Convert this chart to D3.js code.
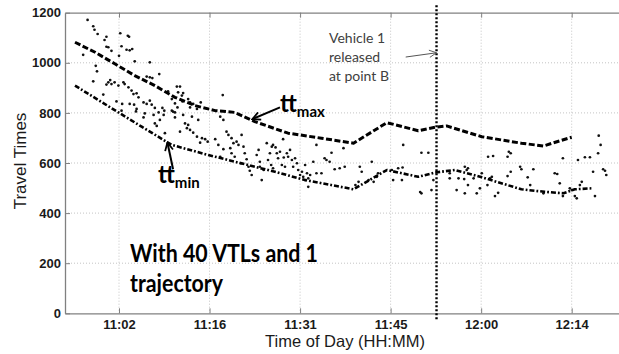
<!DOCTYPE html>
<html>
<head>
<meta charset="utf-8">
<script src="https://cdn.jsdelivr.net/npm/d3@7"></script>
<style>
  html, body { margin: 0; padding: 0; background: #fff; }
  svg { display: block; }
</style>
</head>
<body>
<div id="chart"></div>
<script>
// Times are minutes after midnight, travel times in seconds
const xTickMinutes = [662.4, 676.8, 691.2, 705.6, 720, 734.4];
const xTickLabels = ['11:02', '11:16', '11:31', '11:45', '12:00', '12:14'];
const yTicks = [0, 200, 400, 600, 800, 1000, 1200];

const ttMaxTime = [655.4, 658.6, 661.8, 664.9, 668.1, 671.3, 674.5, 677.7, 680.8, 684.0, 689.3,
  694.6, 699.7, 705.0, 710.0, 712.7, 714.5, 720.1, 726.4, 729.9, 734.4];
const ttMaxValue = [1082, 1042, 995, 949, 909, 862, 829, 809, 802, 765, 719,
  699, 679, 761, 729, 743, 748, 705, 679, 668, 703];

const ttMinTime = [655.4, 662.3, 666.0, 670.8, 676.6, 684.0, 687.2, 692.0, 699.7, 705.0, 710.0,
  712.7, 715.8, 720.1, 726.4, 730.1, 733.1, 734.9, 737.6];
const ttMinValue = [909, 802, 745, 672, 632, 585, 565, 532, 495, 572, 545,
  562, 572, 543, 495, 485, 479, 495, 499];

const obsTime = [
  657.4, 658.3, 658.5, 659.0, 660.4, 660.1, 660.4, 660.7, 661.2, 656.7, 662.6, 663.8, 664.0, 662.8,
  663.6, 664.1, 664.5, 662.4, 664.9, 667.3, 658.7, 658.9, 658.3, 660.7, 661.0, 661.2, 660.4, 661.7,
  662.3, 663.1, 663.3, 663.9, 664.4, 664.7, 665.2, 665.5, 666.8, 667.3, 667.7, 668.8, 659.9, 662.0,
  662.9, 664.1, 664.8, 665.2, 666.3, 666.8, 667.3, 667.6, 668.1, 669.3, 669.6, 668.7, 670.2, 671.6,
  672.1, 671.8, 672.4, 672.6, 670.8, 671.3, 671.7, 672.5, 673.4, 673.7, 674.2, 675.4, 673.7, 674.8,
  670.8, 671.3, 678.9, 662.8, 665.1, 666.3, 666.5, 667.9, 668.1, 668.4, 668.9, 669.5, 669.7, 671.0,
  671.3, 672.1, 672.6, 672.9, 673.2, 673.4, 673.7, 674.0, 674.2, 674.8, 675.3, 675.0, 675.6, 676.1,
  676.5, 677.7, 678.2, 679.0, 679.5, 679.8, 680.3, 680.6, 681.1, 681.4, 680.1, 680.3, 680.8, 681.9,
  682.2, 682.4, 682.7, 683.0, 683.2, 683.5, 681.8, 678.5, 678.5, 679.0, 684.6, 684.3, 684.8, 685.1,
  685.9, 686.1, 686.4, 686.7, 686.9, 687.3, 686.6, 686.9, 687.5, 687.7, 688.0, 688.3, 688.5, 688.6,
  688.8, 689.1, 689.3, 689.6, 689.9, 690.1, 690.4, 690.7, 690.9, 691.2, 691.5, 691.7, 692.0, 692.3,
  692.5, 692.8, 692.5, 692.0, 693.3, 693.8, 693.8, 694.6, 695.1, 695.4, 695.9, 696.2, 696.7, 697.5,
  698.1, 698.3, 700.7, 701.0, 700.5, 700.0, 702.6, 702.1, 702.9, 703.4, 703.6, 705.8, 706.0, 706.8,
  707.4, 707.6, 707.5, 710.5, 711.6, 710.5, 712.1, 684.8, 685.4, 715.0, 715.0, 716.1, 716.4, 717.4,
  717.7, 717.9, 717.3, 717.9, 717.4, 718.8, 719.3, 719.8, 720.1, 721.0, 721.1, 721.9, 721.4, 721.7,
  722.2, 722.7, 724.2, 724.4, 724.7, 724.2, 724.7, 726.2, 726.4, 727.4, 727.8, 728.3, 729.9, 731.7,
  732.1, 732.5, 733.0, 733.0, 734.1, 734.4, 734.9, 735.2, 735.4, 735.7, 736.0, 736.5, 737.3, 737.8,
  738.1, 738.6, 738.7, 739.0, 739.4, 739.7, 739.9, 710.3, 712.4
];
const obsValue = [
  1171, 1146, 1132, 1115, 1104, 1091, 1064, 1062, 1048, 1032, 1118, 1108, 1104, 1066,
  1052, 1050, 1055, 1028, 1006, 1002, 988, 966, 926, 922, 931, 915, 913, 922,
  909, 922, 915, 902, 889, 875, 878, 862, 945, 942, 939, 955, 873, 846,
  836, 836, 833, 816, 842, 836, 849, 833, 820, 820, 809, 802, 886, 905,
  905, 882, 869, 879, 855, 838, 822, 846, 855, 842, 836, 842, 822, 816,
  809, 802, 871, 809, 806, 782, 798, 792, 758, 748, 772, 792, 719, 805,
  782, 725, 792, 758, 739, 752, 732, 785, 721, 705, 681, 772, 699, 695,
  685, 695, 672, 655, 725, 712, 699, 679, 685, 672, 659, 639, 625, 712,
  665, 639, 615, 585, 569, 552, 599, 625, 785, 772, 652, 632, 605, 532,
  679, 612, 639, 665, 672, 662, 592, 579, 639, 619, 645, 592, 695, 622,
  585, 639, 625, 652, 612, 585, 619, 599, 572, 552, 565, 545, 532, 559,
  539, 552, 505, 592, 605, 672, 559, 559, 619, 612, 605, 641, 575, 579,
  659, 585, 585, 565, 525, 512, 605, 532, 525, 545, 559, 572, 532, 579,
  532, 672, 582, 641, 641, 479, 492, 585, 572, 559, 539, 492, 539, 585,
  572, 579, 536, 512, 479, 539, 479, 499, 559, 512, 625, 628, 539, 545,
  468, 481, 625, 645, 639, 548, 565, 585, 575, 543, 512, 575, 479, 559,
  556, 519, 468, 619, 499, 492, 468, 459, 612, 512, 525, 623, 623, 565,
  468, 639, 709, 672, 575, 569, 552, 484, 532
];

// Time when vehicle 1 leaves point B
const releaseTime = 712.9;

const width = 619;
const height = 354;
const margin = { top: 12.7, right: -4, bottom: 40.7, left: 65 };
const axisFont = 'Arial, "Liberation Sans", sans-serif';
const noteFont = 'Lato, "Open Sans", sans-serif';

const svg = d3.select('#chart').append('svg')
  .attr('width', width)
  .attr('height', height)
  .style('font-family', axisFont);

const plotW = width - margin.left - margin.right;
const plotH = height - margin.top - margin.bottom;

const x = d3.scaleLinear().domain([653.81, 742.56]).range([0, plotW]);
const y = d3.scaleLinear().domain([0, 1200]).range([plotH, 0]);

const g = svg.append('g')
  .attr('transform', `translate(${margin.left}, ${margin.top})`);

// Dotted grid
g.append('g')
  .selectAll('line')
  .data(xTickMinutes)
  .join('line')
  .attr('x1', d => x(d)).attr('x2', d => x(d))
  .attr('y1', 0).attr('y2', plotH)
  .attr('stroke', '#c4c4c4')
  .attr('stroke-dasharray', '1,2');

g.append('g')
  .selectAll('line')
  .data(yTicks.slice(1, -1))
  .join('line')
  .attr('x1', 0).attr('x2', plotW)
  .attr('y1', d => y(d)).attr('y2', d => y(d))
  .attr('stroke', '#c4c4c4')
  .attr('stroke-dasharray', '1,2');

// Axes (ticks point inward, like MATLAB)
const xAxis = d3.axisBottom(x)
  .tickValues(xTickMinutes)
  .tickFormat((d, i) => xTickLabels[i])
  .tickSizeInner(-5)
  .tickSizeOuter(0)
  .tickPadding(6);

const yAxis = d3.axisLeft(y)
  .tickValues(yTicks)
  .tickFormat(d3.format('d'))
  .tickSizeInner(-5)
  .tickSizeOuter(0)
  .tickPadding(4);

const gx = g.append('g')
  .attr('transform', `translate(0, ${plotH})`)
  .call(xAxis);

const gxTop = g.append('g')
  .call(d3.axisTop(x).tickValues(xTickMinutes).tickFormat('').tickSizeInner(-5).tickSizeOuter(0));

const gy = g.append('g').call(yAxis);

[gx, gxTop, gy].forEach(a => {
  a.attr('font-family', null);
  a.select('.domain').attr('stroke', '#808080').attr('stroke-width', 1.3);
  a.selectAll('.tick line').attr('stroke', '#808080');
  a.selectAll('.tick text')
    .attr('fill', '#1a1a1a')
    .style('font-family', axisFont)
    .style('font-size', '13px')
    .style('font-weight', 'bold');
});

// Observed travel times
g.append('g')
  .selectAll('circle')
  .data(obsTime.map((t, i) => ({ t, v: obsValue[i] })))
  .join('circle')
  .attr('cx', d => x(d.t))
  .attr('cy', d => y(d.v))
  .attr('r', 1.35)
  .attr('fill', '#111');

// Bounds
const line = d3.line()
  .x(d => x(d.t))
  .y(d => y(d.v));

g.append('path')
  .datum(ttMaxTime.map((t, i) => ({ t, v: ttMaxValue[i] })))
  .attr('d', line)
  .attr('fill', 'none')
  .attr('stroke', '#000')
  .attr('stroke-width', 3)
  .attr('stroke-linejoin', 'round')
  .attr('stroke-dasharray', '6,2.5');

g.append('path')
  .datum(ttMinTime.map((t, i) => ({ t, v: ttMinValue[i] })))
  .attr('d', line)
  .attr('fill', 'none')
  .attr('stroke', '#000')
  .attr('stroke-width', 2.6)
  .attr('stroke-linejoin', 'round')
  .attr('stroke-dasharray', '5,2,1.8,2');

// Release marker
g.append('line')
  .attr('x1', x(releaseTime)).attr('x2', x(releaseTime))
  .attr('y1', y(1230)).attr('y2', y(-28))
  .attr('stroke', '#000')
  .attr('stroke-width', 2.4)
  .attr('stroke-dasharray', '2,2');

// Arrow heads
const defs = svg.append('defs');
defs.append('marker')
  .attr('id', 'head-bold')
  .attr('viewBox', '0 0 10 10')
  .attr('refX', 9).attr('refY', 5)
  .attr('markerWidth', 5).attr('markerHeight', 5)
  .attr('orient', 'auto')
  .append('path')
  .attr('d', 'M1,1 L9,5 L1,9')
  .attr('fill', 'none')
  .attr('stroke', '#000')
  .attr('stroke-width', 1.8);

defs.append('marker')
  .attr('id', 'head-thin')
  .attr('viewBox', '0 0 10 10')
  .attr('refX', 9).attr('refY', 5)
  .attr('markerWidth', 9).attr('markerHeight', 9)
  .attr('orient', 'auto')
  .attr('markerUnits', 'userSpaceOnUse')
  .append('path')
  .attr('d', 'M1,1 L9,5 L1,9')
  .attr('fill', 'none')
  .attr('stroke', '#555')
  .attr('stroke-width', 1);

// tt_max / tt_min callouts
const callouts = [
  { label: 'max', t: 688.0, v: 804, from: [688.0, 822], to: [683.6, 775] },
  { label: 'min', t: 668.6, v: 521, from: [671.0, 575], to: [670.1, 682] },
];

callouts.forEach(c => {
  g.append('line')
    .attr('x1', x(c.from[0])).attr('y1', y(c.from[1]))
    .attr('x2', x(c.to[0])).attr('y2', y(c.to[1]))
    .attr('stroke', '#000')
    .attr('stroke-width', 2)
    .attr('marker-end', 'url(#head-bold)');

  const txt = g.append('text')
    .attr('x', x(c.t))
    .attr('y', y(c.v))
    .style('font-family', noteFont)
    .style('font-weight', 'bold')
    .attr('fill', '#000');
  txt.append('tspan').style('font-size', '24px').text('tt');
  txt.append('tspan').style('font-size', '15px').attr('dy', 5).text(c.label);
});

// Release note
const note = g.append('text')
  .attr('fill', '#404040')
  .style('font-family', noteFont)
  .style('font-size', '14px');
['Vehicle 1', 'released', 'at point B'].forEach((s, i) => {
  note.append('tspan')
    .attr('x', x(695.8))
    .attr('y', y(1079 - i * 76))
    .text(s);
});

g.append('line')
  .attr('x1', x(708.0)).attr('y1', y(1023))
  .attr('x2', x(releaseTime)).attr('y2', y(1040))
  .attr('stroke', '#555')
  .attr('stroke-width', 1)
  .attr('marker-end', 'url(#head-thin)');

// Scenario label
const scenario = g.append('text')
  .style('font-family', noteFont)
  .style('font-weight', 'bold')
  .style('font-size', '25px')
  .attr('fill', '#000');
[['With 40 VTLs and 1', 188, 205], ['trajectory', 93, 85]].forEach(([s, len, v]) => {
  scenario.append('tspan')
    .attr('x', x(664.15))
    .attr('y', y(v))
    .attr('textLength', len)
    .attr('lengthAdjust', 'spacingAndGlyphs')
    .text(s);
});

// Axis titles
svg.append('text')
  .attr('x', 345)
  .attr('y', 346.5)
  .attr('text-anchor', 'middle')
  .attr('fill', '#1a1a1a')
  .style('font-size', '16.5px')
  .text('Time of Day (HH:MM)');

svg.append('text')
  .attr('transform', 'translate(26, 161) rotate(-90)')
  .attr('text-anchor', 'middle')
  .attr('fill', '#1a1a1a')
  .style('font-size', '17px')
  .text('Travel Times');
</script>
</body>
</html>
